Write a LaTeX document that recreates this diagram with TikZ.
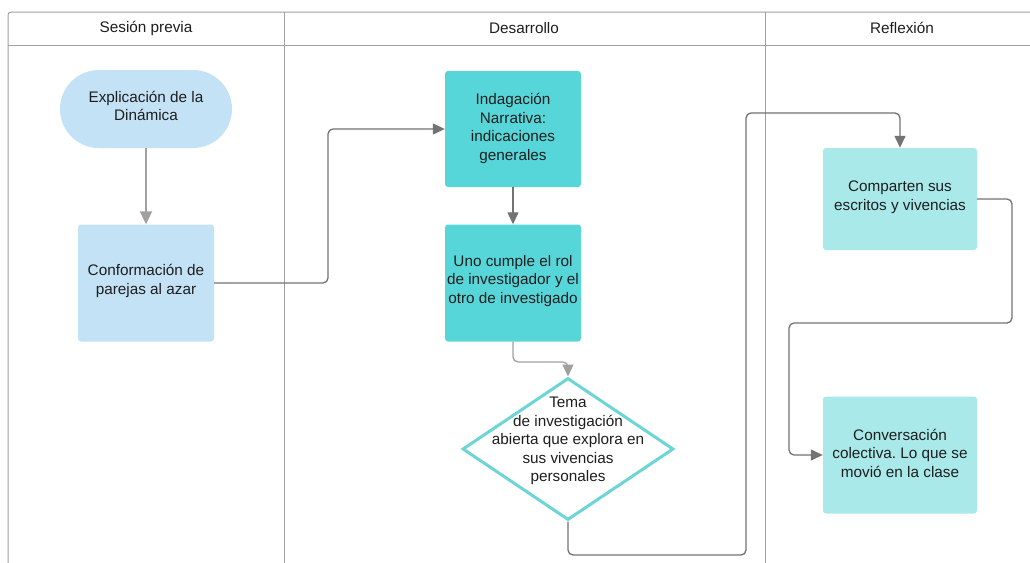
\documentclass[tikz,border=0pt]{standalone}
\usepackage{fontspec}
\setmainfont{Liberation Sans}
\usetikzlibrary{arrows.meta,shapes.geometric,calc}
\frenchspacing
\definecolor{lblue}{HTML}{C4E2F5}
\definecolor{turq}{HTML}{57D6D9}
\definecolor{lturq}{HTML}{A9E9EA}
\definecolor{dline}{HTML}{6DD5D5}
\definecolor{cgray}{HTML}{737373}
\definecolor{fgray}{HTML}{A0A0A0}
\definecolor{txt}{HTML}{1E1E1E}
\tikzset{
  box/.style={rectangle, rounded corners=3pt, inner sep=0pt, align=center, text=txt},
  lane/.style={font=\fontsize{15.3}{17}\selectfont, text=txt},
  conn/.style={draw=cgray, line width=1.3pt, rounded corners=5pt,
    -{Triangle[length=12pt,width=11pt]}},
  frame/.style={draw=fgray, line width=1pt},
  lbl/.style={align=center, text=txt, font=\fontsize{15.3}{18.5}\selectfont, inner sep=0pt}
}
\begin{document}
\begin{tikzpicture}[x=1pt,y=-1pt]
\useasboundingbox (0,0) rectangle (1030,562);
\fill[white] (0,0) rectangle (1030,562);
\begin{scope}
\clip (0,0) rectangle (1030,562);
% frame
\draw[frame, rounded corners=3pt] (8,570) -- (8,12) -- (1040,12);
\draw[frame] (8,45) -- (1040,45);
\draw[frame] (284,12) -- (284,570);
\draw[frame] (765,12) -- (765,570);
\end{scope}
\node[lane] (h1) at (146,28) {Sesión previa};
\node[lane] (h2) at (524,28) {Desarrollo};
\node[lane] (h3) at (902,28) {Reflexión};

% nodes
\node[box, fill=lblue, rounded corners=39pt, minimum width=172pt, minimum height=78pt] (expl) at (146,109) {};
\node[lbl] (explt) at (146,106) {Explicación de la\\Dinámica};
\node[box, fill=lblue, minimum width=136pt, minimum height=117pt] (conf) at (146,283) {};
\node[lbl] (conft) at (146,281) {Conformación de\\parejas al azar};
\node[box, fill=turq, minimum width=136pt, minimum height=116pt] (indag) at (513,129) {};
\node[lbl] (indagt) at (513,128.5) {Indagación\\Narrativa:\\indicaciones\\generales};
\node[box, fill=turq, minimum width=136pt, minimum height=117pt] (uno) at (513,283) {};
\node[lbl] (unot) at (513,281) {Uno cumple el rol\\de investigador y el\\otro de investigado};
\node[diamond, draw=dline, fill=white, line width=3pt, minimum width=211pt, minimum height=142pt, aspect=1.486, inner sep=0pt] (tema) at (568,449) {};
\node[lbl] (temat) at (568,441) {Tema\\de investigación\\abierta que explora en\\sus vivencias\\personales};
\node[box, fill=lturq, minimum width=154pt, minimum height=102pt] (comp) at (900,199) {};
\node[lbl] (compt) at (900,197) {Comparten sus\\escritos y vivencias};
\node[box, fill=lturq, minimum width=154pt, minimum height=117pt] (conv) at (900,455) {};
\node[lbl] (convt) at (900,453) {Conversación\\colectiva. Lo que se\\movió en la clase};

% connectors
\draw[conn, draw=fgray, line width=2pt, -{Triangle[length=13pt,width=12pt]}] (expl.south) -- (conf.north);
\draw[conn] (conf.east) -- (328,283) |- (indag.west);
\draw[conn] (indag.south) -- (uno.north);
\draw[conn, draw=fgray] (uno.south) |- (568,362) -- (tema.north);
\draw[conn] (tema.south) |- (746,555) -- (746,113) -| (comp.north);
\draw[conn] (comp.east) -| (1012,323) -| (789,455) -- (conv.west);
\end{tikzpicture}
\end{document}
